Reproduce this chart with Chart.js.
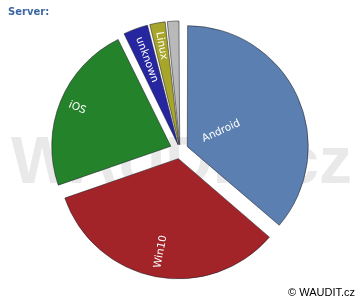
<!DOCTYPE html>
<html>
<head>
<meta charset="utf-8">
<script src="https://cdn.jsdelivr.net/npm/chart.js@4"></script>
<style>
  html, body { margin: 0; padding: 0; background: #fff; }
  #wrap { width: 360px; height: 300px; position: relative; }
</style>
</head>
<body>
<div id="wrap"><canvas id="serverChart"></canvas></div>
<script>
// data
const labels = ['Android', 'Win10', 'iOS', 'unknown', 'Linux', 'ostatní'];
const shares = [36.3, 33.4, 23.0, 3.4, 2.2, 1.7];
const colors = ['#5a7fb0', '#a32428', '#24822a', '#2626a0', '#a8a62a', '#b9b9b9'];

const total = shares.reduce((a, b) => a + b, 0);
const EXPLODE = 10; // px each slice is pulled out

// chart.js moves an arc by offset/4*(1+fix), so work back from the wanted px
function arcOffset(c) {
  const circ = shares[c.dataIndex] / total * Math.PI * 2;
  const fix = 1 - Math.sin(Math.min(Math.PI, circ));
  return EXPLODE * 4 / (1 + fix);
}

const decor = {
  id: 'decor',
  beforeDatasetsDraw(chart) {
    const c = chart.ctx;
    c.save();
    // watermark behind the pie
    c.fillStyle = '#e9e9e9';
    c.font = 'bold 66px "Liberation Sans", Arial, sans-serif';
    c.textBaseline = 'alphabetic';
    c.textAlign = 'left';
    c.fillText('WAUDIT.cz', 11, 183);
    // title
    c.fillStyle = '#3d67a3';
    c.font = 'bold 10px "DejaVu Sans", sans-serif';
    c.fillText('Server:', 8, 15);
    // footer
    c.fillStyle = '#000';
    c.font = '11px "Liberation Sans", Arial, sans-serif';
    c.textAlign = 'right';
    c.fillText('\u00a9 WAUDIT.cz', 355, 296);
    c.restore();
  },
  afterDatasetsDraw(chart) {
    const c = chart.ctx;
    const meta = chart.getDatasetMeta(0);
    c.save();
    c.fillStyle = '#fff';
    c.font = '10.5px "DejaVu Sans", sans-serif';
    c.textBaseline = 'middle';
    c.textAlign = 'left';
    meta.data.forEach((arc, i) => {
      if (shares[i] / total < 0.02) return;
      const p = arc.getProps(['x', 'y', 'startAngle', 'endAngle']);
      const mid = (p.startAngle + p.endAngle) / 2;
      const ax = p.x + Math.cos(mid) * EXPLODE;
      const ay = p.y + Math.sin(mid) * EXPLODE;
      c.save();
      c.translate(ax, ay);
      if (Math.cos(mid) > 0) {
        c.rotate(mid);
        c.fillText(labels[i], 15, 0);
      } else {
        c.rotate(mid + Math.PI);
        c.fillText(labels[i], -110, 0);
      }
      c.restore();
    });
    c.restore();
  }
};

new Chart(document.getElementById('serverChart'), {
  type: 'pie',
  data: {
    labels: labels,
    datasets: [{
      data: shares,
      backgroundColor: colors,
      borderColor: 'rgba(30,30,40,0.55)',
      borderWidth: 1,
      offset: arcOffset
    }]
  },
  options: {
    responsive: true,
    maintainAspectRatio: false,
    animation: false,
    events: [],
    radius: 119,
    layout: { padding: 0 },
    plugins: {
      legend: { display: false },
      tooltip: { enabled: false }
    }
  },
  plugins: [decor]
});
</script>
</body>
</html>
